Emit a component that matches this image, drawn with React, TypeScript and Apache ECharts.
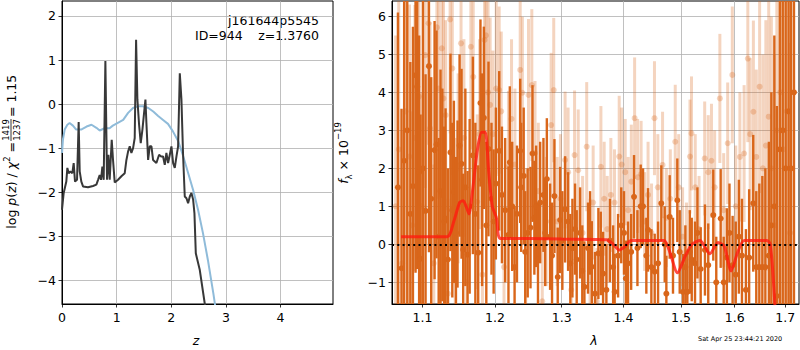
import React, { useEffect, useRef } from 'react';
import * as echarts from 'echarts';

// ---------- Left panel: p(z) ----------
const zGrid = [0, 0.031, 0.079, 0.098, 0.122, 0.153, 0.189, 0.214, 0.238, 0.275, 0.305, 0.324, 0.354, 0.385, 0.476, 0.568, 0.629, 0.66, 0.69, 0.714, 0.739, 0.763, 0.794, 0.824, 0.849, 0.873, 0.91, 0.934, 0.965, 1.026, 1.087, 1.148, 1.179, 1.209, 1.24, 1.27, 1.301, 1.331, 1.356, 1.38, 1.411, 1.441, 1.472, 1.496, 1.527, 1.545, 1.576, 1.606, 1.637, 1.667, 1.728, 1.777, 1.814, 1.85, 1.881, 1.911, 1.942, 1.973, 2.003, 2.034, 2.064, 2.095, 2.125, 2.156, 2.186, 2.217, 2.247, 2.278, 2.308, 2.339, 2.369, 2.4, 2.424, 2.449, 2.522, 2.614, 2.644];
const logPz = [-2.4, -2.02, -1.76, -1.45, -1.57, -1.53, -1.57, -1.34, -1.76, -1.72, -0.41, -1.53, -1.76, -1.87, -1.89, -1.86, -1.83, -1.72, -1.61, -1.72, -1.42, -1.72, 0.98, -1.72, -1.15, -1.72, -0.81, -1.27, -1.78, -1.72, -1.64, -1.57, -1.27, -1.08, -0.96, -1.11, -1.0, -0.77, 1.46, 0.1, -0.47, -0.89, -0.58, -0.28, 0.1, -0.43, -1.27, -0.96, -0.96, -1.27, -1.34, -1.15, -1.19, -1.19, -1.38, -1.11, -1.34, -1.15, -0.96, -1.34, -1.45, -1.19, -0.96, 0.7, 0.1, -1.19, -2.1, -2.14, -2.25, -2.1, -2.02, -2.17, -2.48, -3.39, -3.77, -4.54, -4.83];
const zPrior = [0, 0.018, 0.049, 0.098, 0.14, 0.2, 0.26, 0.35, 0.45, 0.54, 0.63, 0.69, 0.78, 0.87, 0.93, 1.03, 1.12, 1.21, 1.3, 1.39, 1.48, 1.58, 1.67, 1.76, 1.85, 1.94, 2.03, 2.13, 2.22, 2.31, 2.4, 2.49, 2.58, 2.67, 2.77, 2.83];
const logPrior = [-1.11, -0.8, -0.58, -0.47, -0.43, -0.49, -0.58, -0.58, -0.51, -0.47, -0.54, -0.6, -0.55, -0.55, -0.49, -0.42, -0.36, -0.2, -0.09, -0.05, -0.05, -0.09, -0.17, -0.27, -0.36, -0.45, -0.62, -0.85, -1.19, -1.57, -1.95, -2.4, -2.93, -3.54, -4.3, -4.8];
const zTicks = [0, 1, 2, 3, 4];
const pzTicks = [-4, -3, -2, -1, 0, 1, 2];

// ---------- Right panel: spectrum ----------
const darkLam = [1.068, 1.0726, 1.076, 1.08, 1.084, 1.0874, 1.0908, 1.093, 1.0955, 1.0974, 1.1005, 1.104, 1.1085, 1.1115, 1.116, 1.1186, 1.1215, 1.124, 1.1265, 1.129, 1.1308, 1.134, 1.1375, 1.14, 1.1422, 1.145, 1.1472, 1.15, 1.1527, 1.155, 1.158, 1.1611, 1.164, 1.1685, 1.172, 1.176, 1.1792, 1.1815, 1.184, 1.1875, 1.1906, 1.1949, 1.198, 1.2012, 1.206, 1.21, 1.2147, 1.2195, 1.2215, 1.225, 1.2285, 1.232, 1.2368, 1.2383, 1.242, 1.2443, 1.248, 1.2522, 1.2552, 1.258, 1.2607, 1.2635, 1.2668, 1.2718, 1.2745, 1.277, 1.282, 1.285, 1.2887, 1.2938, 1.2975, 1.301, 1.3053, 1.31, 1.3135, 1.3168, 1.321, 1.3236, 1.329, 1.3325, 1.3359, 1.3417, 1.345, 1.3478, 1.353, 1.3585, 1.3624, 1.3662, 1.3716, 1.3775, 1.3828, 1.3853, 1.391, 1.3963, 1.4009, 1.404, 1.4077, 1.413, 1.4179, 1.4237, 1.4293, 1.4333, 1.439, 1.4419, 1.4477, 1.4535, 1.4594, 1.4651, 1.4711, 1.474, 1.4799, 1.4858, 1.4935, 1.4978, 1.5038, 1.508, 1.5116, 1.516, 1.5196, 1.5256, 1.53, 1.536, 1.5439, 1.55, 1.5594, 1.565, 1.5733, 1.579, 1.585, 1.59, 1.596, 1.602, 1.608, 1.614, 1.6217, 1.628, 1.636, 1.642, 1.648, 1.654, 1.66, 1.667, 1.672, 1.678, 1.6831, 1.689, 1.695, 1.701, 1.707, 1.712, 1.718];
const darkFlux = [1.5, -0.63, 2.2, 3.0, 0.8, 1.53, 4.45, 4.15, 1.9, -0.38, 2.0, 0.88, 4.69, 1.2, 2.48, 2.63, 0.2, 1.4, 1.3, 0.6, 0.68, -0.4, 2.42, 0.9, 1.38, 0.3, 1.06, 2.6, 2.12, -0.14, 1.5, -0.27, 1.0, 2.34, 0.8, -0.22, 3.72, 1.7, 3.33, 0.5, 2.51, 1.2, 0.6, 1.6, 2.46, 1.3, 0.9, 0.25, 2.16, 1.0, -0.6, 0.8, 2.46, 1.5, 1.8, -0.2, 0.3, 0.44, 2.39, 0.7, 1.0, -0.4, 1.1, 1.3, 0.3, 1.72, 0.2, -0.3, 1.27, -0.86, 0.64, 0.1, 0.92, 0.6, -0.5, -0.1, 0.4, -0.4, 0.3, -0.7, -1.12, -0.1, 0.3, -0.59, -1.3, -0.24, -0.24, -0.77, -1.2, 0.1, -0.6, -1.25, -0.3, 0.5, 0.3, -0.9, -0.5, -0.2, 1.25, -0.1, 1.0, 1.0, -0.3, 0.38, -0.6, -0.72, -0.5, 1.08, 0.0, -1.3, 0.72, -0.3, 1.16, -0.2, -1.25, -0.6, -1.25, -0.2, -0.4, -0.5, 0.3, -0.65, -0.15, -0.55, 0.77, -1.0, 0.68, -1.0, -0.35, 0.3, -0.55, -0.8, 0.2, -0.3, -1.2, -0.35, 1.08, -0.6, -0.6, -0.6, -0.6, -0.3, 0.5, 1.0, -1.36, 2.5, 3.0, 2.0, 3.5, 2.0, 4.0];
const darkErr = [4.6, 4.2, 4.5, 5.0, 4.0, 4.2, 5.2, 4.8, 3.6, 3.8, 4.5, 3.6, 4.9, 3.2, 3.4, 3.0, 2.6, 3.2, 2.8, 2.5, 2.9, 2.4, 2.6, 2.3, 2.4, 2.0, 2.2, 2.4, 2.5, 2.0, 2.6, 2.2, 2.3, 2.6, 2.4, 2.3, 2.2, 2.8, 2.4, 2.2, 2.3, 2.0, 1.9, 2.0, 2.1, 1.8, 1.9, 1.8, 2.0, 1.7, 1.6, 1.8, 1.9, 1.7, 1.8, 1.6, 1.7, 1.6, 1.8, 1.5, 1.6, 1.5, 1.6, 1.5, 1.4, 1.6, 1.4, 1.4, 1.5, 1.3, 1.4, 1.3, 1.4, 1.3, 1.3, 1.3, 1.2, 1.3, 1.2, 1.2, 1.2, 1.2, 1.1, 1.2, 1.1, 1.2, 1.1, 1.1, 1.2, 1.1, 1.1, 1.0, 1.1, 1.0, 1.1, 1.0, 1.1, 1.0, 1.1, 1.0, 1.1, 1.0, 1.0, 1.1, 1.0, 1.0, 1.1, 1.0, 1.0, 1.0, 1.1, 1.0, 1.1, 1.1, 1.0, 1.1, 1.0, 1.1, 1.1, 1.1, 1.2, 1.1, 1.2, 1.1, 1.2, 1.2, 1.3, 1.2, 1.3, 1.3, 1.3, 1.4, 1.5, 1.5, 1.6, 1.8, 1.8, 2.0, 2.2, 2.4, 2.6, 3.0, 3.5, 4.5, 5.0, 7.0, 7.5, 8.0, 8.0, 7.0, 8.0];

const lightLam = [1.065, 1.069, 1.0735, 1.078, 1.0829, 1.0865, 1.09, 1.0952, 1.099, 1.1036, 1.1079, 1.11, 1.115, 1.1191, 1.1215, 1.1257, 1.128, 1.131, 1.134, 1.137, 1.14, 1.144, 1.148, 1.152, 1.156, 1.16, 1.1657, 1.169, 1.1746, 1.178, 1.182, 1.185, 1.187, 1.19, 1.193, 1.197, 1.2017, 1.206, 1.209, 1.213, 1.2195, 1.224, 1.229, 1.2368, 1.24, 1.245, 1.2492, 1.2542, 1.259, 1.264, 1.27, 1.276, 1.2836, 1.2876, 1.293, 1.298, 1.3053, 1.31, 1.315, 1.3202, 1.326, 1.333, 1.3396, 1.345, 1.35, 1.356, 1.3626, 1.368, 1.373, 1.379, 1.385, 1.3929, 1.397, 1.403, 1.408, 1.4133, 1.4189, 1.424, 1.43, 1.436, 1.442, 1.448, 1.4531, 1.459, 1.4673, 1.474, 1.481, 1.4898, 1.496, 1.503, 1.51, 1.5164, 1.5192, 1.526, 1.533, 1.5434, 1.55, 1.556, 1.562, 1.5718, 1.579, 1.5866, 1.5954, 1.602, 1.61, 1.6182, 1.6254, 1.63, 1.6363, 1.642, 1.6486, 1.655, 1.661, 1.6667, 1.672, 1.678, 1.683, 1.69, 1.696, 1.703, 1.71];
const lightFlux = [1.0, 2.5, -0.5, 3.5, 2.31, 0.5, 2.8, 3.89, 1.0, 4.98, 5.82, 3.05, -0.5, 5.71, 4.1, 5.16, 3.84, 3.4, -1.3, 5.92, 4.63, 0.4, 2.0, 5.29, 2.8, -1.0, 5.2, 4.41, 1.12, 2.9, -0.8, 5.38, 5.5, 4.0, 3.67, 2.9, 4.1, 4.06, 3.5, -0.6, 2.04, 3.3, 2.1, 4.59, 3.99, 0.2, 3.93, 4.19, 2.4, 1.4, -1.5, 0.6, 3.14, 4.06, 0.6, 1.2, 2.22, 1.9, -1.2, 2.35, 1.95, 0.3, 2.57, -0.3, 1.1, -1.5, 2.04, 1.2, 0.4, 1.3, 1.1, 2.31, 2.1, 1.9, 0.9, 1.65, 3.32, 1.8, 1.85, 0.6, 1.3, 0.3, 3.32, 1.5, 2.09, 0.7, 1.2, 2.7, 1.5, 0.2, -0.2, 2.31, 2.92, 1.5, 0.4, 2.26, 1.9, 2.2, 1.5, 3.84, 0.9, 2.66, 4.46, 1.0, 2.3, 2.39, 4.89, 2.9, 3.49, 2.3, 4.15, 2.0, 2.6, 3.36, 2.0, 0.5, 3.0, 4.0, 2.5, 3.5, 0.3];
const lightErr = [4.5, 4.8, 3.5, 4.5, 4.0, 3.0, 3.5, 3.8, 3.0, 3.5, 3.2, 2.8, 2.6, 3.0, 2.9, 3.0, 2.7, 2.5, 2.5, 3.0, 2.8, 2.4, 2.5, 2.8, 2.6, 2.5, 2.7, 2.5, 2.3, 2.5, 2.2, 2.6, 2.6, 2.4, 2.3, 2.2, 2.3, 2.2, 2.1, 2.0, 2.0, 2.1, 2.0, 2.1, 2.0, 1.8, 2.0, 2.0, 1.9, 1.8, 1.7, 1.7, 1.9, 1.9, 1.7, 1.7, 1.8, 1.7, 1.6, 1.7, 1.6, 1.5, 1.7, 1.5, 1.5, 1.4, 1.6, 1.5, 1.4, 1.5, 1.4, 1.6, 1.5, 1.4, 1.4, 1.5, 1.6, 1.5, 1.4, 1.3, 1.4, 1.3, 1.5, 1.4, 1.4, 1.3, 1.3, 1.5, 1.4, 1.3, 1.3, 1.5, 1.5, 1.4, 1.4, 1.5, 1.5, 1.5, 1.5, 1.7, 1.5, 1.6, 1.8, 1.6, 1.7, 1.8, 2.2, 2.0, 2.4, 2.3, 2.8, 3.0, 3.3, 3.5, 4.0, 4.5, 5.0, 6.0, 6.0, 6.0, 5.0];

const modelLam = [1.072, 1.133, 1.142, 1.15, 1.155, 1.16, 1.163, 1.168, 1.175, 1.181, 1.186, 1.191, 1.196, 1.202, 1.208, 1.25, 1.3, 1.35, 1.372, 1.383, 1.393, 1.403, 1.413, 1.44, 1.47, 1.48, 1.4937, 1.508, 1.52, 1.5348, 1.545, 1.553, 1.5683, 1.58, 1.5931, 1.606, 1.6182, 1.64, 1.663, 1.67, 1.6792];
const modelFlux = [0.2, 0.2, 0.6, 1.1, 1.15, 0.95, 0.8, 1.4, 2.5, 2.95, 2.95, 1.9, 1.0, 0.7, 0.15, 0.15, 0.14, 0.13, 0.12, 0.0, -0.15, -0.05, 0.1, 0.1, 0.1, -0.2, -0.75, -0.3, 0.0, 0.1, -0.1, -0.25, 0.05, -0.05, -0.7, -0.2, 0.1, 0.1, 0.1, 0.0, -1.6];

const lamTicks = [1.1, 1.2, 1.3, 1.4, 1.5, 1.6, 1.7];
const fluxTicks = [-1, 0, 1, 2, 3, 4, 5, 6];

const FONT = 'DejaVu Sans';
const FS = 12.5;
const DARK = '#d9661a';
const fmtMinus = (v: number) => (v < 0 ? '\u2212' + String(-v) : String(v));

function errRender(color: string, opacity: number, w: number) {
  return (params: any, api: any) => {
    const x = api.value(0);
    const f = api.value(1);
    const e = api.value(2);
    const top = api.coord([x, f + e]);
    const bot = api.coord([x, f - e]);
    const c = api.coord([x, f]);
    return {
      type: 'group',
      children: [
        { type: 'rect', shape: { x: top[0] - w / 2, y: top[1], width: w, height: bot[1] - top[1] }, style: { fill: color, opacity } },
        { type: 'circle', shape: { cx: c[0], cy: c[1], r: 3 }, style: { fill: color, opacity } },
      ],
    };
  };
}

const axisCommon = {
  axisLine: { show: true, onZero: false, lineStyle: { color: '#000', width: 1 } },
  axisTick: { show: true, length: 3.5, lineStyle: { color: '#000', width: 0.8 } },
  splitLine: { show: true, lineStyle: { color: '#b0b0b0', width: 0.8 } },
};

export default function App() {
  const ref = useRef<HTMLDivElement>(null);
  useEffect(() => {
    if (!ref.current) return;
    const chart = echarts.init(ref.current, null, { renderer: 'svg' });
    const lamMin = Math.log10(1.0604);
    const lamMax = Math.log10(1.7284);
    const option: any = {
      animation: false,
      grid: [
        { left: 62, top: 1, width: 271, height: 303, show: true, borderColor: '#000', borderWidth: 1, backgroundColor: 'transparent' },
        { left: 392, top: 1, width: 407, height: 303, show: true, borderColor: '#000', borderWidth: 1, backgroundColor: 'transparent' },
      ],
      xAxis: [
        {
          type: 'value', gridIndex: 0, min: 0, max: 4.96, ...axisCommon,
          axisTick: { ...axisCommon.axisTick, customValues: zTicks },
          axisLabel: { customValues: zTicks, fontFamily: FONT, fontSize: FS, color: '#000', margin: 7 },
        },
        {
          type: 'value', gridIndex: 1, min: lamMin, max: lamMax, ...axisCommon,
          axisTick: { ...axisCommon.axisTick, customValues: lamTicks.map((v) => Math.log10(v)) },
          axisLabel: {
            customValues: lamTicks.map((v) => Math.log10(v)), fontFamily: FONT, fontSize: FS, color: '#000', margin: 7,
            formatter: (v: number) => Math.pow(10, v).toFixed(1),
          },
        },
      ],
      yAxis: [
        {
          type: 'value', gridIndex: 0, min: -4.54, max: 2.34, ...axisCommon,
          axisTick: { ...axisCommon.axisTick, customValues: pzTicks },
          axisLabel: { customValues: pzTicks, fontFamily: FONT, fontSize: FS, color: '#000', margin: 6, formatter: fmtMinus },
        },
        {
          type: 'value', gridIndex: 1, min: -1.571, max: 6.405, ...axisCommon,
          axisTick: { ...axisCommon.axisTick, customValues: fluxTicks },
          axisLabel: { customValues: fluxTicks, fontFamily: FONT, fontSize: FS, color: '#000', margin: 6, formatter: fmtMinus },
        },
      ],
      series: [
        {
          type: 'line', xAxisIndex: 0, yAxisIndex: 0, showSymbol: false, z: 2,
          data: zPrior.map((z, i) => [z, logPrior[i]]),
          lineStyle: { color: '#8fbbd9', width: 2 }, itemStyle: { color: '#8fbbd9' },
        },
        {
          type: 'line', xAxisIndex: 0, yAxisIndex: 0, showSymbol: false, z: 3,
          data: zGrid.map((z, i) => [z, logPz[i]]),
          lineStyle: { color: '#383838', width: 2 }, itemStyle: { color: '#383838' },
        },
        {
          type: 'custom', xAxisIndex: 1, yAxisIndex: 1, clip: true, z: 2,
          renderItem: errRender(DARK, 0.28, 3),
          encode: { x: 0, y: 1 },
          data: lightLam.map((l, i) => [Math.log10(l), lightFlux[i], lightErr[i]]),
        },
        {
          type: 'custom', xAxisIndex: 1, yAxisIndex: 1, clip: true, z: 3,
          renderItem: errRender(DARK, 1, 2.4),
          encode: { x: 0, y: 1 },
          data: darkLam.map((l, i) => [Math.log10(l), darkFlux[i], darkErr[i]]),
        },
        {
          type: 'line', xAxisIndex: 1, yAxisIndex: 1, showSymbol: false, z: 4, smooth: 0.25,
          data: modelLam.map((l, i) => [Math.log10(l), modelFlux[i]]),
          lineStyle: { color: 'rgba(255,25,15,0.78)', width: 3 }, itemStyle: { color: 'red' },
          markLine: {
            silent: true, symbol: 'none', label: { show: false },
            lineStyle: { color: '#000', width: 2, type: [2, 3.3] },
            data: [{ yAxis: 0 }],
          },
        },
      ],
      graphic: [
        { type: 'text', x: 319, y: 20, style: { text: 'j161644p5545', font: `${FS}px "${FONT}"`, fill: '#000', align: 'right', verticalAlign: 'middle' } },
        { type: 'text', x: 195, y: 35, style: { text: 'ID=944', font: `${FS}px "${FONT}"`, fill: '#000', align: 'left', verticalAlign: 'middle' } },
        { type: 'text', x: 319, y: 35, style: { text: 'z=1.3760', font: `${FS}px "${FONT}"`, fill: '#000', align: 'right', verticalAlign: 'middle' } },
        { type: 'text', x: 196, y: 340, style: { text: 'z', font: `italic ${FS}px "${FONT}"`, fill: '#000', align: 'center', verticalAlign: 'middle' } },
        { type: 'text', x: 594, y: 340, style: { text: 'λ', font: `italic ${FS}px "${FONT}"`, fill: '#000', align: 'center', verticalAlign: 'middle' } },
        { type: 'text', x: 698, y: 339, style: { text: 'Sat Apr 25 23:44:21 2020', font: `6.5px "${FONT}"`, fill: '#000', align: 'left', verticalAlign: 'middle' } },
        {
          type: 'group', x: 11, y: 130, rotation: Math.PI / 2,
          children: [
            {
              type: 'text', x: -12, y: 0,
              style: {
                text: 'log {i|p}({i|z}) / {i|χ}{sup|2} =', font: `${FS}px "${FONT}"`, fill: '#000', align: 'right', verticalAlign: 'middle', lineHeight: 18,
                rich: {
                  i: { fontStyle: 'italic', fontSize: FS, fontFamily: FONT, fill: '#000', lineHeight: 18 },
                  sup: { fontSize: 8.5, fontFamily: FONT, fill: '#000', verticalAlign: 'top', lineHeight: 10 },
                },
              },
            },
            { type: 'text', x: 0, y: -5, style: { text: '1419', font: `8.5px "${FONT}"`, fill: '#000', align: 'center', verticalAlign: 'middle' } },
            { type: 'line', shape: { x1: -11, y1: 0, x2: 11, y2: 0 }, style: { stroke: '#000', lineWidth: 0.8 } },
            { type: 'text', x: 0, y: 6, style: { text: '1237', font: `8.5px "${FONT}"`, fill: '#000', align: 'center', verticalAlign: 'middle' } },
            { type: 'text', x: 13, y: 0, style: { text: '= 1.15', font: `${FS}px "${FONT}"`, fill: '#000', align: 'left', verticalAlign: 'middle' } },
          ],
        },
        {
          type: 'group', x: 343, y: 153, rotation: Math.PI / 2,
          children: [
            {
              type: 'text', x: 0, y: 0,
              style: {
                text: '{i|f}{sub|λ} × 10{sup|−19}', font: `${FS}px "${FONT}"`, fill: '#000', align: 'center', verticalAlign: 'middle', lineHeight: 20,
                rich: {
                  i: { fontStyle: 'italic', fontSize: FS, fontFamily: FONT, fill: '#000', lineHeight: 20 },
                  sub: { fontSize: 8.5, fontFamily: FONT, fill: '#000', verticalAlign: 'bottom', lineHeight: 10 },
                  sup: { fontSize: 8.5, fontFamily: FONT, fill: '#000', verticalAlign: 'top', lineHeight: 10 },
                },
              },
            },
          ],
        },
      ],
    };
    chart.setOption(option);
    return () => chart.dispose();
  }, []);
  return <div ref={ref} style={{ position: 'absolute', left: 0, top: 0, width: 800, height: 350 }} />;
}
